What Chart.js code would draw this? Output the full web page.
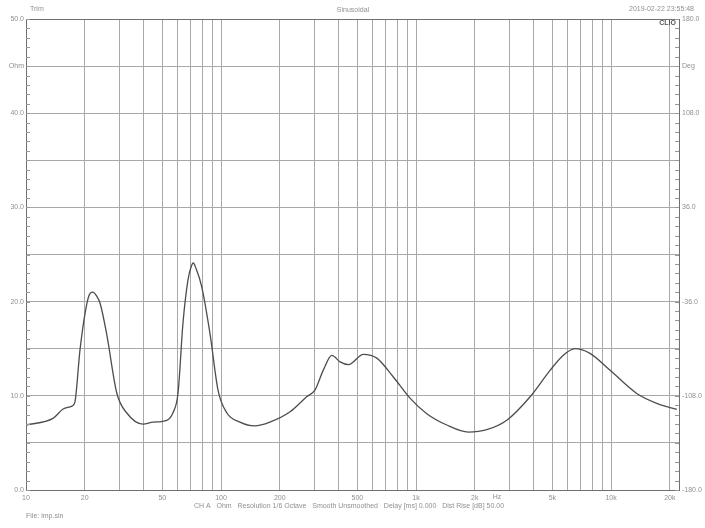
<!DOCTYPE html>
<html>
<head>
<meta charset="utf-8">
<script src="https://cdn.jsdelivr.net/npm/chart.js@4.4.1/dist/chart.umd.min.js"></script>
<style>
  html, body { margin: 0; padding: 0; background: #fff; }
</style>
</head>
<body>
<canvas id="impChart" width="705" height="528"></canvas>
<script>
// impedance curve
const freqHz = [10, 13.75, 15.5, 17.2, 17.8, 18.9, 20.1, 21, 22, 23, 24, 25.9, 29.2, 32.8, 39.8, 44.8, 52.7, 56.7, 60.2,
  63.8, 67.7, 70, 72.1, 74.5, 79.6, 87.8, 96.5, 107, 125, 149, 178, 226, 275, 303, 334, 370, 408, 450, 537, 629, 765,
  931, 1135, 1437, 1854, 2305, 2919, 3845, 4866, 5690, 6533, 7798, 9885, 13545, 17140, 21730];
const impedanceOhm = [6.9, 7.6, 8.6, 8.9, 9.3, 14.8, 18.8, 20.6, 21.0, 20.6, 19.8, 16.6, 10.3, 8.2, 7.0, 7.2, 7.4, 8.2, 10.3,
  17.7, 22.3, 23.6, 24.1, 23.5, 21.6, 16.6, 10.6, 8.2, 7.2, 6.8, 7.2, 8.3, 9.9, 10.6, 12.7, 14.3, 13.6, 13.3, 14.4, 14.0, 12.0,
  9.75, 8.1, 6.9, 6.15, 6.4, 7.4, 9.9, 12.7, 14.3, 15.0, 14.5, 12.7, 10.25, 9.2, 8.55];

// axis ticks
const gridFreqs = [10, 20, 30, 40, 50, 60, 70, 80, 90, 100, 200, 300, 400, 500, 600, 700, 800, 900,
  1000, 2000, 3000, 4000, 5000, 6000, 7000, 8000, 9000, 10000, 20000];
const freqLabels = { 10: '10', 20: '20', 50: '50', 100: '100', 200: '200', 500: '500',
  1000: '1k', 2000: '2k', 5000: '5k', 10000: '10k', 20000: '20k' };
const ohmLabels = { 0: '0.0', 10: '10.0', 20: '20.0', 30: '30.0', 40: '40.0', 45: 'Ohm', 50: '50.0' };
const degLabels = { '-180': '-180.0', '-108': '-108.0', '-36': '-36.0', '36': '36.0', '108': '108.0', '144': 'Deg', '180': '180.0' };

const labelFont = { family: 'Arial, "Liberation Sans", sans-serif', size: 7 };
const labelColor = '#909090';

// frame, minor ticks and header / footer texts
const clioDecor = {
  id: 'clioDecor',
  afterDraw(chart) {
    const { ctx, chartArea: a, scales } = chart;
    ctx.save();
    ctx.strokeStyle = '#707070';
    ctx.lineWidth = 1;
    ctx.strokeRect(a.left + 0.5, a.top + 0.5, a.right - a.left, a.bottom - a.top);

    ctx.strokeStyle = '#999';
    for (let v = 0; v <= 50; v++) {
      const y = Math.round(scales.y.getPixelForValue(v)) + 0.5;
      ctx.beginPath();
      ctx.moveTo(a.left, y); ctx.lineTo(a.left + 4, y);
      ctx.moveTo(a.right - 4, y); ctx.lineTo(a.right, y);
      ctx.stroke();
    }

    ctx.fillStyle = labelColor;
    ctx.font = '7px Arial, "Liberation Sans", sans-serif';
    ctx.textBaseline = 'middle';
    ctx.textAlign = 'left';
    ctx.fillText('Trim', 30, 9);
    ctx.fillText('File: imp.sin', a.left, 516);
    ctx.textAlign = 'center';
    ctx.fillText('Sinusoidal', 353, 10);
    ctx.fillText('Hz', scales.x.getPixelForValue(2600), 497);
    ctx.fillText('CH A   Ohm   Resolution 1/6 Octave   Smooth Unsmoothed   Delay [ms] 0.000   Dist Rise [dB] 50.00', 349, 506);
    ctx.textAlign = 'right';
    ctx.fillText('2019-02-22 23:55:48', 694, 9);
    ctx.fillStyle = '#555';
    ctx.font = 'bold 7px Arial, "Liberation Sans", sans-serif';
    ctx.fillText('CLIO', a.right - 3, a.top + 4);
    ctx.restore();
  }
};

const ctx = document.getElementById('impChart').getContext('2d');
new Chart(ctx, {
  type: 'line',
  data: {
    datasets: [{
      data: freqHz.map((f, i) => ({ x: f, y: impedanceOhm[i] })),
      borderColor: '#4d4d4d',
      borderWidth: 1.3,
      pointRadius: 0,
      fill: false,
      cubicInterpolationMode: 'monotone',
      yAxisID: 'y',
    }]
  },
  options: {
    responsive: false,
    animation: false,
    layout: { padding: { top: 19, bottom: 24, left: 0, right: 0 } },
    plugins: { legend: { display: false }, tooltip: { enabled: false } },
    scales: {
      x: {
        type: 'logarithmic',
        min: 10,
        max: 22300,
        afterBuildTicks: (scale) => { scale.ticks = gridFreqs.map(v => ({ value: v })); },
        afterFit: (scale) => { scale.height = 14; },
        grid: { color: '#a8a8a8', lineWidth: 1, drawTicks: false },
        border: { color: '#707070' },
        ticks: {
          autoSkip: false, maxRotation: 0, padding: 4,
          font: labelFont, color: labelColor,
          callback: (value) => freqLabels[value] || '',
        },
      },
      y: {
        position: 'left',
        min: 0,
        max: 50,
        afterFit: (scale) => { scale.width = 26; },
        grid: { color: '#a8a8a8', lineWidth: 1, drawTicks: false },
        border: { color: '#707070' },
        ticks: {
          stepSize: 5, padding: 2,
          font: labelFont, color: labelColor,
          callback: (value) => ohmLabels[value] || '',
        },
      },
      y2: {
        position: 'right',
        min: -180,
        max: 180,
        afterFit: (scale) => { scale.width = 26; },
        grid: { drawOnChartArea: false, drawTicks: false },
        border: { color: '#707070' },
        ticks: {
          stepSize: 36, padding: 3,
          font: labelFont, color: labelColor,
          callback: (value) => degLabels[String(Math.round(value))] || '',
        },
      },
    },
  },
  plugins: [clioDecor],
});
</script>
</body>
</html>
